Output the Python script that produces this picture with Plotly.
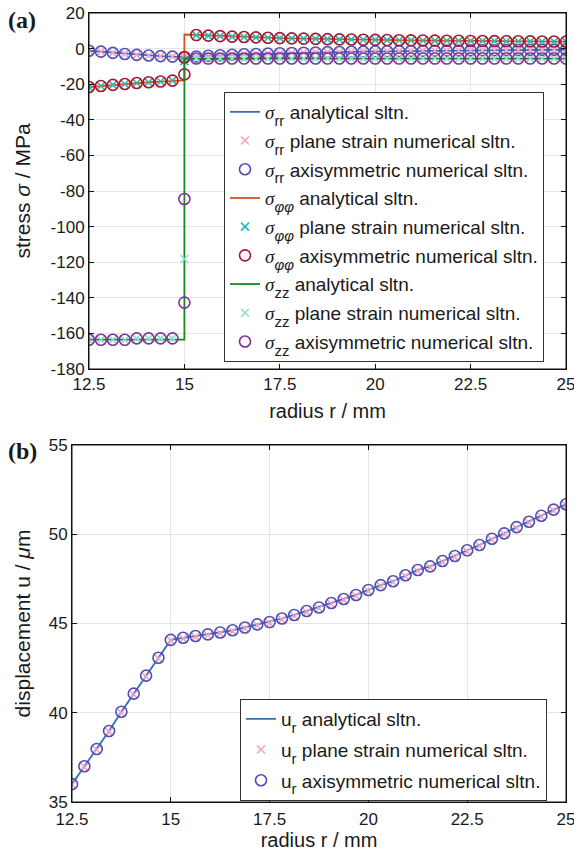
import plotly.graph_objects as go

# ---------------- data ----------------
r_in = [12.5, 12.8125, 13.125, 13.4375, 13.75, 14.0625, 14.375, 14.6875]
r_if = [15.0]
r_out = [15.3125, 15.625, 15.9375, 16.25, 16.5625, 16.875, 17.1875, 17.5,
         17.8125, 18.125, 18.4375, 18.75, 19.0625, 19.375, 19.6875, 20.0,
         20.3125, 20.625, 20.9375, 21.25, 21.5625, 21.875, 22.1875, 22.5,
         22.8125, 23.125, 23.4375, 23.75, 24.0625, 24.375, 24.6875, 25.0]

# stresses (MPa)
srr_in = [-1.2, -1.7, -2.4, -3.0, -3.5, -3.9, -4.2, -4.5]
srr_if_in, srr_if_out = -4.9, -4.9
srr_out = [-4.4, -4.0, -3.7, -3.45, -3.2, -3.0, -2.8, -2.6, -2.45, -2.3, -2.15,
           -2.0, -1.9, -1.8, -1.7, -1.6, -1.5, -1.42, -1.35, -1.28, -1.2, -1.14,
           -1.08, -1.02, -0.96, -0.9, -0.86, -0.82, -0.78, -0.74, -0.7, -0.66]

sff_in = [-21.6, -21.0, -20.4, -19.9, -19.3, -18.9, -18.5, -18.0]
sff_if_in, sff_if_out = -17.8, 7.9
sff_out = [7.6, 7.3, 7.0, 6.75, 6.5, 6.3, 6.1, 5.9, 5.75, 5.6, 5.45, 5.3, 5.2,
           5.1, 5.0, 4.9, 4.8, 4.72, 4.64, 4.56, 4.5, 4.43, 4.37, 4.31, 4.25,
           4.2, 4.15, 4.1, 4.05, 4.0, 3.96, 3.92]

szz_in_ana = [-163.5, -163.5, -163.5, -163.5, -163.5, -163.5, -163.5, -163.5]
szz_in = [-163.6, -163.6, -163.6, -163.6, -162.8, -162.8, -162.8, -162.8]
szz_if_in, szz_if_out = -163.5, -5.6
szz_out = [-5.6, -5.6, -5.6, -5.6, -5.6, -5.6, -5.6, -5.6, -5.6, -5.6, -5.6,
           -5.6, -5.6, -5.6, -5.6, -5.6, -5.6, -5.6, -5.6, -5.6, -5.6, -5.6,
           -5.6, -5.6, -5.6, -5.6, -5.6, -5.6, -5.6, -5.6, -5.6, -5.6]

# numerical values at the interface r = 15
srr_ps_if = [-4.9]
srr_ax_if = [-4.9, -4.9]
sff_ps_if = [-7.0]
sff_ax_if = [-4.9, -14.5]
szz_ps_if = [-118.2]
szz_ax_if = [-84.5, -142.7]

# displacement (um)
u_in = [36.0, 37.0, 37.97, 38.98, 40.06, 41.07, 42.08, 43.08]
u_if = [44.08]
u_out = [44.2, 44.3, 44.39, 44.5, 44.62, 44.78, 44.95, 45.08, 45.28, 45.48,
         45.7, 45.9, 46.15, 46.37, 46.6, 46.88, 47.15, 47.37, 47.7, 48.0, 48.2,
         48.5, 48.78, 49.1, 49.4, 49.75, 50.05, 50.4, 50.7, 51.04, 51.38, 51.68]
u_ps_in = [35.96, 36.95, 37.93, 38.94, 40.0, 41.02, 42.03, 43.04]
u_ps_if = [44.04]
u_ps_out = [44.15, 44.25, 44.34, 44.45, 44.56, 44.72, 44.89, 45.02, 45.22,
            45.42, 45.64, 45.84, 46.09, 46.31, 46.54, 46.82, 47.09, 47.31,
            47.64, 47.94, 48.14, 48.44, 48.72, 49.04, 49.34, 49.69, 49.99,
            50.34, 50.64, 50.98, 51.32, 51.62]

x_ticks = [12.5, 15, 17.5, 20, 22.5, 25]
x_tick_labels = ["12.5", "15", "17.5", "20", "22.5", "25"]
ya_ticks = [20, 0, -20, -40, -60, -80, -100, -120, -140, -160, -180]
ya_tick_labels = ["20", "0", "-20", "-40", "-60", "-80", "-100", "-120", "-140", "-160", "-180"]
yb_ticks = [35, 40, 45, 50, 55]
yb_tick_labels = ["35", "40", "45", "50", "55"]

# ---------------- styles ----------------
FONT = "Liberation Sans, Arial, Helvetica, sans-serif"
SERIF = "Liberation Serif, Times New Roman, serif"
C_RR_L, C_RR_X, C_RR_O = "#3A6EB2", "#F2A2C4", "#4F4FB3"
C_FF_L, C_FF_X, C_FF_O = "#D95319", "#2DB6B6", "#A5162F"
C_ZZ_L, C_ZZ_X, C_ZZ_O = "#138A1E", "#94DAD2", "#80309A"

fig = go.Figure()

r_ana = r_in + r_if + r_if + r_out
r_ps = r_in + r_if + r_out
r_ax = r_in + r_if + r_if + r_out


def sub_txt(s):
    return f"<sub><sub><span style='font-size:15px'>{s}</span></sub></sub>"


def lbl(sub, txt, italic_sub=False):
    s = f"<i>{sub}</i>" if italic_sub else sub
    return (f"<span style='font-family:{SERIF}'><i>σ</i></span>"
            f"{sub_txt(s)} {txt}")


groups = [
    ("rr", False, srr_in, srr_in, srr_if_in, srr_if_out, srr_out, srr_ps_if, srr_ax_if,
     C_RR_L, C_RR_X, C_RR_O),
    ("φφ", True, sff_in, sff_in, sff_if_in, sff_if_out, sff_out, sff_ps_if, sff_ax_if,
     C_FF_L, C_FF_X, C_FF_O),
    ("zz", False, szz_in_ana, szz_in, szz_if_in, szz_if_out, szz_out, szz_ps_if, szz_ax_if,
     C_ZZ_L, C_ZZ_X, C_ZZ_O),
]
k = 0
for sub, it, ana_in, num_in, if_in, if_out, outv, ps_if, ax_if, cl, cx, co in groups:
    fig.add_trace(go.Scatter(
        x=r_ana, y=ana_in + [if_in, if_out] + outv, mode="lines",
        line=dict(color=cl, width=1.8), name=lbl(sub, "analytical sltn.", it),
        xaxis="x", yaxis="y", legend="legend", legendgroup=f"a{k}"))
    k += 1
    fig.add_trace(go.Scatter(
        x=r_ps, y=num_in + ps_if + outv, mode="markers",
        marker=dict(symbol="x-thin", size=8, line=dict(color=cx, width=1.6)),
        name=lbl(sub, "plane strain numerical sltn.", it),
        xaxis="x", yaxis="y", legend="legend", legendgroup=f"a{k}"))
    k += 1
    fig.add_trace(go.Scatter(
        x=r_ax, y=num_in + ax_if + outv, mode="markers",
        marker=dict(symbol="circle-open", size=11, line=dict(color=co, width=1.6), color=co),
        name=lbl(sub, "axisymmetric numerical sltn.", it),
        xaxis="x", yaxis="y", legend="legend", legendgroup=f"a{k}"))
    k += 1

# panel (b)
ulbl = "u" + sub_txt("r") + " "
fig.add_trace(go.Scatter(
    x=r_in + r_if + r_out, y=u_in + u_if + u_out, mode="lines",
    line=dict(color=C_RR_L, width=1.8), name=ulbl + "analytical sltn.",
    xaxis="x2", yaxis="y2", legend="legend2", legendgroup="b0"))
fig.add_trace(go.Scatter(
    x=r_in + r_if + r_out, y=u_ps_in + u_ps_if + u_ps_out, mode="markers",
    marker=dict(symbol="x-thin", size=8, line=dict(color=C_RR_X, width=1.6)),
    name=ulbl + "plane strain numerical sltn.",
    xaxis="x2", yaxis="y2", legend="legend2", legendgroup="b1"))
fig.add_trace(go.Scatter(
    x=r_in + r_if + r_out, y=u_in + u_if + u_out, mode="markers",
    marker=dict(symbol="circle-open", size=11, line=dict(color=C_RR_O, width=1.6), color=C_RR_O),
    name=ulbl + "axisymmetric numerical sltn.",
    xaxis="x2", yaxis="y2", legend="legend2", legendgroup="b2"))

W, H = 574, 857
ax_common = dict(
    automargin=False, ticklabeloverflow="allow",
    showline=True, linecolor="#111111", linewidth=1, mirror="ticks",
    ticks="inside", ticklen=5, tickcolor="#111111", tickwidth=1,
    showgrid=True, gridcolor="#E4E4E4", gridwidth=1, zeroline=False,
    tickfont=dict(family=FONT, size=17, color="#1a1a1a"),
)
xt_font = dict(family=FONT, size=20, color="#1a1a1a")
yt_font = dict(family=FONT, size=21, color="#1a1a1a")
leg_font = dict(family=FONT, size=19, color="#1a1a1a")
leg_common = dict(
    bgcolor="white", bordercolor="#333333", borderwidth=1, font=leg_font,
    xanchor="left", yanchor="top", traceorder="grouped",
)

box = dict(type="rect", x0=0, x1=1, y0=0, y1=1, layer="above",
           line=dict(color="#111111", width=1), fillcolor="rgba(0,0,0,0)")

fig.update_layout(
    width=W, height=H, margin=dict(l=0, r=0, t=0, b=0, autoexpand=False),
    paper_bgcolor="white", plot_bgcolor="white",
    xaxis=dict(domain=[89 / W, 566 / W], anchor="y", range=[12.5, 25],
               tickvals=x_ticks, ticktext=x_tick_labels,
               title=dict(text="radius r / mm", standoff=10, font=xt_font), **ax_common),
    yaxis=dict(domain=[1 - 369 / H, 1 - 13 / H], anchor="x", range=[-180, 20],
               tickvals=ya_ticks, ticktext=ya_tick_labels,
               title=dict(text="stress <i>σ</i> / MPa", standoff=14, font=yt_font), **ax_common),
    xaxis2=dict(domain=[72 / W, 566 / W], anchor="y2", range=[12.5, 25],
                tickvals=x_ticks, ticktext=x_tick_labels, ticklabelstandoff=2,
                title=dict(text="radius r / mm", standoff=2, font=xt_font), **ax_common),
    yaxis2=dict(domain=[1 - 802 / H, 1 - 445 / H], anchor="x2", range=[35, 55],
                tickvals=yb_ticks, ticktext=yb_tick_labels,
                title=dict(text="displacement u / <i>μ</i>m", standoff=12, font=yt_font), **ax_common),
    legend=dict(x=224 / W, y=1 - 92 / H, tracegroupgap=1, **leg_common),
    legend2=dict(x=240 / W, y=1 - 699 / H, tracegroupgap=3, **leg_common),
    showlegend=True,
    shapes=[
        dict(xref="x domain", yref="y domain", **box),
        dict(xref="x2 domain", yref="y2 domain", **box),
    ],
    annotations=[
        dict(text="<b>(a)</b>", x=6 / W, y=1 - 20 / H, xref="paper", yref="paper",
             xanchor="left", yanchor="middle", showarrow=False,
             font=dict(family=SERIF, size=24, color="#1a1a1a")),
        dict(text="<b>(b)</b>", x=6 / W, y=1 - 451 / H, xref="paper", yref="paper",
             xanchor="left", yanchor="middle", showarrow=False,
             font=dict(family=SERIF, size=24, color="#1a1a1a")),
    ],
)

fig.write_html(
    "out.html",
    config={"displayModeBar": False},
    post_script=("document.body.style.margin='0px';"
                 "document.body.style.overflow='hidden';"
                 "document.documentElement.style.overflow='hidden';"),
)
